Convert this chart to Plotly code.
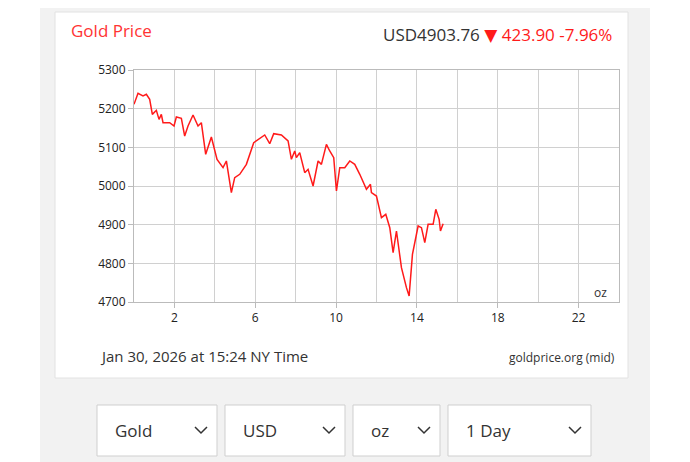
import plotly.graph_objects as go

zx = [13,25,40,50,60,68,80,88,95,100,120,133,140,155,165,175,190,205,215,228,245,262,280,290,305,315,330,350,372,390,405,420,432,455,475,485,495,500,510,525,535,550,565,575,590,600,612,620,630,645,660,675,690,710,722,725,740,755,768,780,790,800,815,830,838,848,865,875,885,895,910,918,928,932,940]
zy = [130,97,105,100,115,160,148,175,160,185,185,195,168,172,225,195,162,195,185,280,228,295,320,300,395,350,340,310,245,232,222,248,218,222,240,295,270,290,275,335,325,375,300,310,250,270,290,390,320,320,300,310,340,385,370,395,405,470,460,500,575,510,620,680,705,580,495,500,545,490,490,445,475,510,488]
hours = [round((a - 13) / 60.6, 3) for a in zx]
prices = [round(5200 - (b - 143) / 1.16, 1) for b in zy]

L, R, T, B = 134, 619, 70, 302
OFF = 8
def px(x): return (x - L) / (R - L)
def py(y): return (B - y) / (B - T)

fig = go.Figure(go.Scatter(x=hours, y=prices, mode="lines",
                           line=dict(color="#ff1a1a", width=1.5), hoverinfo="skip"))
shapes = []
shapes.append(dict(type="rect", xref="paper", yref="paper", x0=px(40), x1=px(650), y0=py(470), y1=py(-10),
                   fillcolor="#f2f2f2", line=dict(width=0), layer="below"))
shapes.append(dict(type="rect", xref="paper", yref="paper", x0=px(55), x1=px(628), y0=py(378), y1=py(12),
                   fillcolor="white", line=dict(color="#e2e2e2", width=1), layer="below"))
boxes = [(97, 217, "Gold"), (225, 345, "USD"), (353, 440, "oz"), (448, 591, "1 Day")]
ann = []
for x0, x1, lab in boxes:
    shapes.append(dict(type="rect", xref="paper", yref="paper", x0=px(x0), x1=px(x1), y0=py(456), y1=py(405),
                       fillcolor="white", line=dict(color="#cfcfcf", width=1)))
    cx = x1 - 16
    path = f"M {px(cx-6)} {py(427)} L {px(cx)} {py(433)} L {px(cx+6)} {py(427)}"
    shapes.append(dict(type="path", xref="paper", yref="paper", path=path, line=dict(color="#333", width=1.5)))
    ann.append(dict(x=px(x0 + 16), y=py(431), xref="paper", yref="paper", text=lab, showarrow=False,
                    xanchor="left", yanchor="middle", font=dict(size=17, color="#333")))
fig.update_layout(shapes=shapes)

ann += [
    dict(x=px(69), y=py(30), text="Gold Price", xanchor="left", font=dict(size=17, color="#ff3333")),
    dict(x=px(614), y=py(35), text="USD4903.76 <span style='color:#ff1a1a'>▼ 423.90 -7.96%</span>",
         xanchor="right", font=dict(size=17, color="#333")),
    dict(x=px(98), y=py(356), text="Jan 30, 2026 at 15:24 NY Time", xanchor="left", font=dict(size=15, color="#333")),
    dict(x=px(617), y=py(357), text="goldprice.org (mid)", xanchor="right", font=dict(size=12, color="#333")),
    dict(x=px(609), y=py(292), text="oz", xanchor="right", font=dict(size=12, color="#333")),
]
for a in ann:
    a.setdefault("xref", "paper"); a.setdefault("yref", "paper"); a.setdefault("showarrow", False)
    a.setdefault("yanchor", "middle")
fig.update_layout(annotations=ann)

fig.update_layout(
    width=690, height=462, margin=dict(l=L - OFF, r=690 - R + OFF, t=T - OFF, b=462 - B + OFF),
    paper_bgcolor="white", plot_bgcolor="white", showlegend=False,
    font=dict(family="Open Sans, DejaVu Sans", color="#333"),
    xaxis=dict(range=[0, 24], tickvals=[2, 6, 10, 14, 18, 22], showgrid=True,
               gridcolor="#d0d0d0", gridwidth=1, showline=True, linecolor="#bbb", mirror=True,
               ticks="outside", ticklen=5, tickcolor="#bbb", tickfont=dict(size=12, color="#222"),
               zeroline=False, fixedrange=True),
    yaxis=dict(range=[4700, 5300], dtick=100, showgrid=True, gridcolor="#d0d0d0",
               showline=True, linecolor="#bbb", mirror=True, ticks="outside", ticklen=5, tickcolor="#bbb",
               tickfont=dict(size=12, color="#222"), zeroline=False, fixedrange=True),
)
fig.update_xaxes(minor=dict(tickvals=[0, 4, 8, 12, 16, 20, 24], showgrid=True, gridcolor="#d0d0d0", ticks=""))
fig.write_html("out.html")
